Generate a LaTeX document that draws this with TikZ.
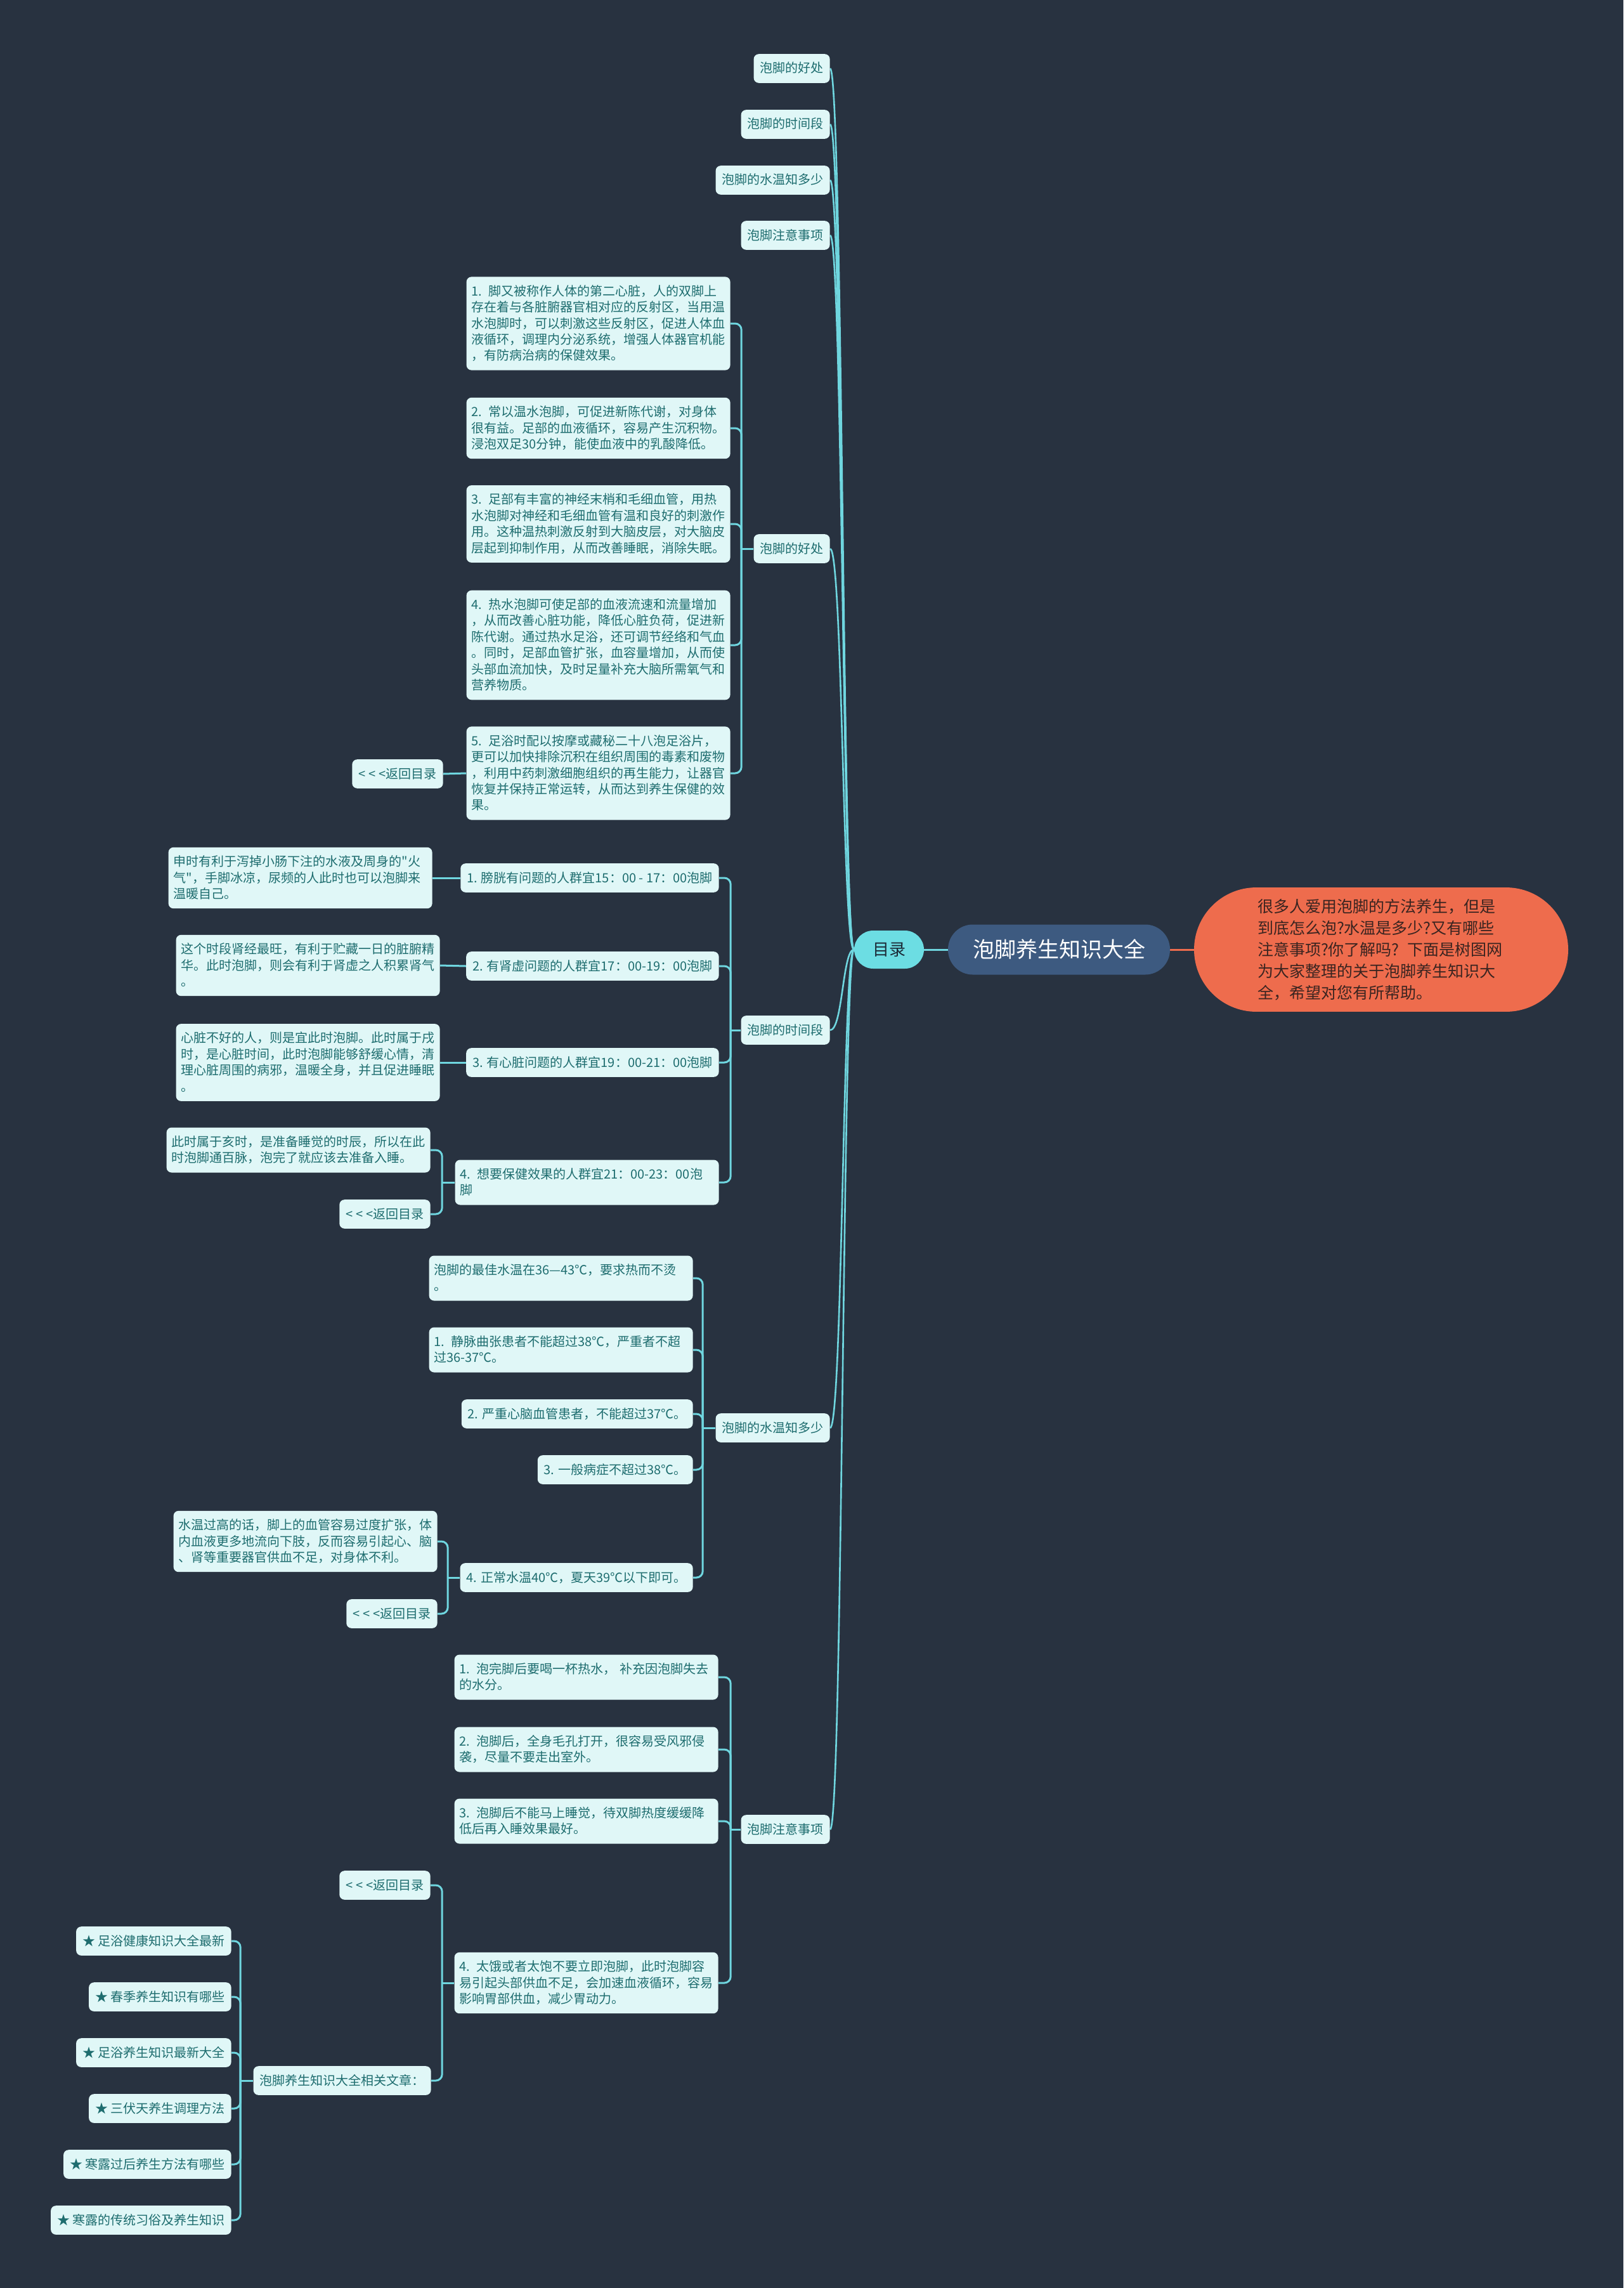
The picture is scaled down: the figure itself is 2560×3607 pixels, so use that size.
\documentclass[tikz,border=0pt]{standalone}
\usepackage{fontspec}
\newfontfamily\cjk{Noto Sans CJK SC}
\usetikzlibrary{calc}
\definecolor{bgc}{HTML}{283240}
\definecolor{leaffill}{HTML}{E0F7F7}
\definecolor{leaftext}{HTML}{1E6D6F}
\definecolor{linec}{HTML}{6FD6DF}
\definecolor{mulufill}{HTML}{6CDDE3}
\definecolor{rootfill}{HTML}{3D5A80}
\definecolor{orangefill}{HTML}{EE6C4D}
\definecolor{orangetext}{HTML}{3A2420}
\definecolor{darktext}{HTML}{1C2B38}
\newcommand\mystrut{\rule[-1.6pt]{0pt}{10.2pt}}
\newcommand\backtxt{<\hspace{2.5pt}<\hspace{2.5pt}<返回目录}
\pgfdeclarelayer{back}
\pgfdeclarelayer{mid}
\pgfsetlayers{back,mid,main}
\begin{document}
\begin{tikzpicture}[x=0.5pt,y=-0.5pt,
  leaf/.style={anchor=east, fill=leaffill, text=leaftext,
    font=\cjk\fontsize{10pt}{12.7pt}\selectfont, rounded corners=4pt,
    inner xsep=5pt, inner ysep=6.3pt, text height=8.6pt, text depth=1.6pt},
  para/.style={anchor=east, fill=leaffill, text=leaftext,
    font=\cjk\fontsize{10pt}{12.7pt}\selectfont, rounded corners=4pt,
    text width=200pt, align=left, inner xsep=4pt, inner ysep=6.3pt,
    execute at begin node=\mystrut, execute at end node=\mystrut},
  conn/.style={draw=linec, line width=1.5pt},
  busline/.style={conn, rounded corners=5pt},
]
\begin{pgfonlayer}{back}
\fill[bgc] (0,0) rectangle (2560,3607);
\end{pgfonlayer}
\useasboundingbox (0,0) rectangle (2560,3607);

% centre
\node[fill=mulufill, text=darktext, font=\cjk\fontsize{13pt}{15pt}\selectfont,
  rounded corners=15pt, inner xsep=14.5pt, inner ysep=8.5pt, text height=11pt, text depth=2pt]
  (mulu) at (1402,1497) {目录};
\node[fill=rootfill, text=white, font=\cjk\fontsize{17pt}{20pt}\selectfont,
  rounded corners=19.5pt, inner xsep=19.5pt, inner ysep=11.25pt, text height=14.5pt, text depth=2.5pt]
  (root) at (1670,1497) {泡脚养生知识大全};
\node[fill=orangefill, text=orangetext, font=\cjk\fontsize{12.5pt}{17pt}\selectfont,
  rounded corners=49pt, text width=195pt, align=left, inner xsep=50pt, inner ysep=9pt]
  (intro) at (2178,1497) {很多人爱用泡脚的方法养生，但是\\到底怎么泡?水温是多少?又有哪些\\注意事项?你了解吗? 下面是树图网\\为大家整理的关于泡脚养生知识大\\全，希望对您有所帮助。};

% level 2
\node[leaf] (L1) at (1309,108) {泡脚的好处};
\node[leaf] (L2) at (1309,196) {泡脚的时间段};
\node[leaf] (L3) at (1309,284) {泡脚的水温知多少};
\node[leaf] (L4) at (1309,371) {泡脚注意事项};
\node[leaf] (S1) at (1309,865) {泡脚的好处};
\node[leaf] (S2) at (1309,1624) {泡脚的时间段};
\node[leaf] (S3) at (1309,2251) {泡脚的水温知多少};
\node[leaf] (S4) at (1309,2884) {泡脚注意事项};

% section 1
\node[para] (B1) at (1152,510) {1. 脚又被称作人体的第二心脏，人的双脚上\\存在着与各脏腑器官相对应的反射区，当用温\\水泡脚时，可以刺激这些反射区，促进人体血\\液循环，调理内分泌系统，增强人体器官机能\\，有防病治病的保健效果。};
\node[para] (B2) at (1152,675) {2. 常以温水泡脚，可促进新陈代谢，对身体\\很有益。足部的血液循环，容易产生沉积物。\\浸泡双足30分钟，能使血液中的乳酸降低。};
\node[para] (B3) at (1152,826) {3. 足部有丰富的神经末梢和毛细血管，用热\\水泡脚对神经和毛细血管有温和良好的刺激作\\用。这种温热刺激反射到大脑皮层，对大脑皮\\层起到抑制作用，从而改善睡眠，消除失眠。};
\node[para] (B4) at (1152,1017) {4. 热水泡脚可使足部的血液流速和流量增加\\，从而改善心脏功能，降低心脏负荷，促进新\\陈代谢。通过热水足浴，还可调节经络和气血\\。同时，足部血管扩张，血容量增加，从而使\\头部血流加快，及时足量补充大脑所需氧气和\\营养物质。};
\node[para] (B5) at (1152,1219) {5. 足浴时配以按摩或藏秘二十八泡足浴片，\\更可以加快排除沉积在组织周围的毒素和废物\\，利用中药刺激细胞组织的再生能力，让器官\\恢复并保持正常运转，从而达到养生保健的效\\果。};
\node[leaf] (B5r) at (699,1220) {\backtxt};

% section 2
\node[leaf] (T1) at (1134,1384) {1. 膀胱有问题的人群宜15：00 - 17：00泡脚};
\node[leaf] (T2) at (1134,1523) {2. 有肾虚问题的人群宜17：00-19：00泡脚};
\node[leaf] (T3) at (1134,1675) {3. 有心脏问题的人群宜19：00-21：00泡脚};
\node[para] (T4) at (1134,1864) {4. 想要保健效果的人群宜21：00-23：00泡\\脚};
\node[para] (T1a) at (682,1384) {申时有利于泻掉小肠下注的水液及周身的"火\\气"，手脚冰凉，尿频的人此时也可以泡脚来\\温暖自己。};
\node[para] (T2a) at (694,1522) {这个时段肾经最旺，有利于贮藏一日的脏腑精\\华。此时泡脚，则会有利于肾虚之人积累肾气\\。};
\node[para] (T3a) at (694,1675) {心脏不好的人，则是宜此时泡脚。此时属于戌\\时，是心脏时间，此时泡脚能够舒缓心情，清\\理心脏周围的病邪，温暖全身，并且促进睡眠\\。};
\node[para] (T4a) at (679,1813) {此时属于亥时，是准备睡觉的时辰，所以在此\\时泡脚通百脉，泡完了就应该去准备入睡。};
\node[leaf] (T4r) at (679,1914) {\backtxt};

% section 3
\node[para] (W0) at (1093,2015) {泡脚的最佳水温在36—43℃，要求热而不烫\\。};
\node[para] (W1) at (1093,2128) {1. 静脉曲张患者不能超过38℃，严重者不超\\过36-37℃。};
\node[leaf] (W2) at (1093,2229) {2. 严重心脑血管患者，不能超过37℃。};
\node[leaf] (W3) at (1093,2317) {3. 一般病症不超过38℃。};
\node[leaf] (W4) at (1093,2487) {4. 正常水温40℃，夏天39℃以下即可。};
\node[para] (W4a) at (690,2430) {水温过高的话，脚上的血管容易过度扩张，体\\内血液更多地流向下肢，反而容易引起心、脑\\、肾等重要器官供血不足，对身体不利。};
\node[leaf] (W4r) at (690,2544) {\backtxt};

% section 4
\node[para] (N1) at (1133,2644) {1. 泡完脚后要喝一杯热水， 补充因泡脚失去\\的水分。};
\node[para] (N2) at (1133,2758) {2. 泡脚后，全身毛孔打开，很容易受风邪侵\\袭，尽量不要走出室外。};
\node[para] (N3) at (1133,2871) {3. 泡脚后不能马上睡觉，待双脚热度缓缓降\\低后再入睡效果最好。};
\node[para] (N4) at (1133,3126) {4. 太饿或者太饱不要立即泡脚，此时泡脚容\\易引起头部供血不足，会加速血液循环，容易\\影响胃部供血，减少胃动力。};
\node[leaf] (N4r) at (679,2972) {\backtxt};
\node[leaf] (N4b) at (680,3280) {泡脚养生知识大全相关文章：};
\node[leaf] (R1) at (365,3060) {★ 足浴健康知识大全最新};
\node[leaf] (R2) at (365,3148) {★ 春季养生知识有哪些};
\node[leaf] (R3) at (365,3236) {★ 足浴养生知识最新大全};
\node[leaf] (R4) at (365,3324) {★ 三伏天养生调理方法};
\node[leaf] (R5) at (365,3412) {★ 寒露过后养生方法有哪些};
\node[leaf] (R6) at (365,3500) {★ 寒露的传统习俗及养生知识};

\begin{pgfonlayer}{mid}
\draw[conn] (root.west) -- (mulu.east);
\draw[draw=orangefill, line width=1.5pt] (root.east) -- (intro.west);
\foreach \c in {L1,L2,L3,L4,S1,S2,S3,S4}
  \draw[conn, line width=1.3pt] (mulu.west) .. controls ([xshift=-9pt]mulu.west) and ([xshift=10pt]\c.east) .. (\c.east);
% section 1
\foreach \c in {B1,B2,B3,B4,B5}
  \draw[busline] ([xshift=-9.5pt]S1.west) |- (\c.east);
\draw[conn] (S1.west) -- ([xshift=-9.5pt]S1.west);
\draw[conn] (B5.west) -- (B5r.east);
% section 2
\foreach \c in {T1,T2,T3,T4}
  \draw[busline] ([xshift=-8pt]S2.west) |- (\c.east);
\draw[conn] (S2.west) -- ([xshift=-8pt]S2.west);
\draw[conn] (T1.west) -- (T1a.east);
\draw[conn] (T2.west) -- (T2a.east);
\draw[conn] (T3.west) -- (T3a.east);
\foreach \c in {T4a,T4r}
  \draw[busline] ([xshift=-10pt]T4.west) |- (\c.east);
\draw[conn] (T4.west) -- ([xshift=-10pt]T4.west);
% section 3
\foreach \c in {W0,W1,W2,W3,W4}
  \draw[busline] ([xshift=-10pt]S3.west) |- (\c.east);
\draw[conn] (S3.west) -- ([xshift=-10pt]S3.west);
\foreach \c in {W4a,W4r}
  \draw[busline] ([xshift=-9.5pt]W4.west) |- (\c.east);
\draw[conn] (W4.west) -- ([xshift=-9.5pt]W4.west);
% section 4
\foreach \c in {N1,N2,N3,N4}
  \draw[busline] ([xshift=-8pt]S4.west) |- (\c.east);
\draw[conn] (S4.west) -- ([xshift=-8pt]S4.west);
\foreach \c in {N4r,N4b}
  \draw[busline] ([xshift=-9.5pt]N4.west) |- (\c.east);
\draw[conn] (N4.west) -- ([xshift=-9.5pt]N4.west);
\foreach \c in {R1,R2,R3,R4,R5,R6}
  \draw[busline] ([xshift=-10pt]N4b.west) |- (\c.east);
\draw[conn] (N4b.west) -- ([xshift=-10pt]N4b.west);
\end{pgfonlayer}
\end{tikzpicture}
\end{document}
